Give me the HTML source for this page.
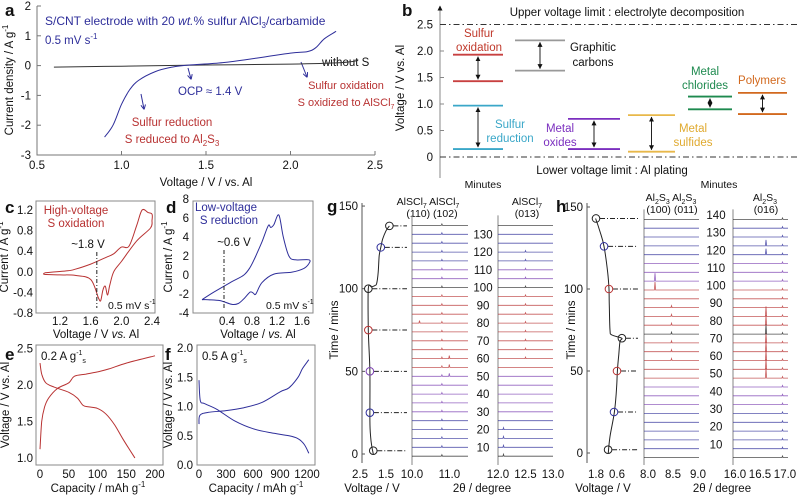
<!DOCTYPE html>
<html><head><meta charset="utf-8">
<style>
html,body{margin:0;padding:0;background:#fff;}
svg{display:block;font-family:"Liberation Sans",sans-serif;}
.t{font-size:11.5px;fill:#111;}
.s{font-size:10.5px;fill:#111;}
.pl{font-size:17px;font-weight:bold;fill:#111;}
</style></head>
<body>
<svg id="fig" width="800" height="496" viewBox="0 0 800 496" xmlns="http://www.w3.org/2000/svg">
<defs>
<marker id="ah" viewBox="0 0 10 10" refX="9" refY="5" markerWidth="5" markerHeight="5" orient="auto-start-reverse"><path d="M0,0L10,5L0,10z" fill="#111"/></marker>
<marker id="ab" viewBox="0 0 10 10" refX="9" refY="5" markerWidth="5" markerHeight="5" orient="auto"><path d="M0,0L10,5L0,10" fill="none" stroke="#2e2e9a" stroke-width="2"/></marker>
</defs>
<text class="pl" x="5" y="16">a</text>
<text class="pl" x="402" y="16">b</text>
<text class="pl" x="5" y="213">c</text>
<text class="pl" x="166" y="213">d</text>
<text class="pl" x="5" y="360">e</text>
<text class="pl" x="165" y="360">f</text>
<text class="pl" x="327" y="212">g</text>
<text class="pl" x="556" y="212">h</text>

<g>
<path d="M37,6V155H375" fill="none" stroke="#777" stroke-width="1"/>
<text class="t" x="45" y="25" style="fill:#2e2e9a;font-size:12px">S/CNT electrode with 20 <tspan font-style="italic">wt.</tspan>% sulfur  AlCl<tspan font-size="8" dy="3">3</tspan><tspan dy="-3">/carbamide</tspan></text>
<text class="t" x="45" y="44" style="fill:#2e2e9a">0.5 mV s<tspan font-size="8" dy="-5">-1</tspan></text>
<text class="t" x="322" y="66">without S</text>
<text class="t" x="178" y="95" style="fill:#2e2e9a">OCP ≈ 1.4 V</text>
<text class="t" x="346" y="89" text-anchor="middle" style="fill:#b83232;font-size:11px">Sulfur oxidation</text>
<text class="t" x="346" y="106" text-anchor="middle" style="fill:#b83232;font-size:11px">S oxidized to AlSCl<tspan font-size="7" dy="3">7</tspan></text>
<text class="t" x="172" y="126" text-anchor="middle" style="fill:#b83232">Sulfur reduction</text>
<text class="t" x="172" y="143" text-anchor="middle" style="fill:#b83232">S reduced to Al<tspan font-size="8" dy="3">2</tspan><tspan dy="-3">S</tspan><tspan font-size="8" dy="3">3</tspan></text>
<path d="M188,68L191,79" stroke="#2e2e9a" fill="none" marker-end="url(#ab)"/>
<path d="M141,94L144,109" stroke="#2e2e9a" fill="none" marker-end="url(#ab)"/>
<path d="M301,62L307,77" stroke="#2e2e9a" fill="none" marker-end="url(#ab)"/>
<text class="t" x="206" y="186" text-anchor="middle">Voltage / V / vs. Al</text>
<text class="t" transform="translate(13,80) rotate(-90)" text-anchor="middle">Current density / A g<tspan font-size="8" dy="-5">-1</tspan></text>
</g>

<g>
<path d="M440,178V6" stroke="#888" marker-end="url(#ah)"/>
<text class="t" x="627" y="16" text-anchor="middle">Upper voltage limit : electrolyte decomposition</text>
<text class="t" x="612" y="174" text-anchor="middle">Lower voltage limit : Al plating</text>
<text class="t" transform="translate(404,88) rotate(-90)" text-anchor="middle">Voltage / V vs. Al</text>
<text class="t" x="479" y="37" text-anchor="middle" style="fill:#c0392b">Sulfur</text>
<text class="t" x="479" y="51" text-anchor="middle" style="fill:#c0392b">oxidation</text>
<text class="t" x="593" y="51" text-anchor="middle">Graphitic</text>
<text class="t" x="593" y="66" text-anchor="middle">carbons</text>
<text class="t" x="510" y="128" text-anchor="middle" style="fill:#3aa7c8">Sulfur</text>
<text class="t" x="510" y="142" text-anchor="middle" style="fill:#3aa7c8">reduction</text>
<text class="t" x="560" y="132" text-anchor="middle" style="fill:#7b2fbf">Metal</text>
<text class="t" x="560" y="146" text-anchor="middle" style="fill:#7b2fbf">oxides</text>
<text class="t" x="693" y="132" text-anchor="middle" style="fill:#e0aa30">Metal</text>
<text class="t" x="693" y="146" text-anchor="middle" style="fill:#e0aa30">sulfides</text>
<text class="t" x="705" y="75" text-anchor="middle" style="fill:#1e8a4f">Metal</text>
<text class="t" x="705" y="89" text-anchor="middle" style="fill:#1e8a4f">chlorides</text>
<text class="t" x="762" y="84" text-anchor="middle" style="fill:#d2691e">Polymers</text>
</g>

<rect x="36" y="201" width="119" height="112" fill="none" stroke="#888"/>
<text class="t" x="76" y="214" text-anchor="middle" style="fill:#b83232">High-voltage</text>
<text class="t" x="76" y="227" text-anchor="middle" style="fill:#b83232">S oxidation</text>
<text class="t" x="88" y="248" text-anchor="middle">~1.8 V</text>
<text class="s" x="108" y="309">0.5 mV s<tspan font-size="7" dy="-5">-1</tspan></text>
<text class="t" x="96" y="338" text-anchor="middle">Voltage / V <tspan font-style="italic">vs.</tspan> Al</text>
<text class="t" transform="translate(8,257) rotate(-90)" text-anchor="middle">Current / A g<tspan font-size="8" dy="-5">-1</tspan></text>

<rect x="193" y="201" width="120" height="112" fill="none" stroke="#888"/>
<text class="t" x="226" y="211" text-anchor="middle" style="fill:#2e2e9a">Low-voltage</text>
<text class="t" x="229" y="224" text-anchor="middle" style="fill:#2e2e9a">S reduction</text>
<text class="t" x="234" y="246" text-anchor="middle">~0.6 V</text>
<text class="s" x="266" y="309">0.5 mV s<tspan font-size="7" dy="-5">-1</tspan></text>
<text class="t" x="258" y="338" text-anchor="middle">Voltage / <tspan font-style="italic">vs.</tspan> Al</text>
<text class="t" transform="translate(172,257) rotate(-90)" text-anchor="middle">Current / A g<tspan font-size="8" dy="-5">-1</tspan></text>

<rect x="36" y="345" width="127" height="120" fill="none" stroke="#888"/>
<text class="t" x="41" y="360">0.2 A g<tspan font-size="7" dy="-5">-1</tspan><tspan font-size="7" dy="8">s</tspan></text>
<text class="t" x="98" y="492" text-anchor="middle">Capacity / mAh g<tspan font-size="8" dy="-5">-1</tspan></text>
<text class="t" transform="translate(9,405) rotate(-90)" text-anchor="middle">Voltage / V vs. Al</text>

<rect x="197" y="345" width="118" height="120" fill="none" stroke="#888"/>
<text class="t" x="202" y="360">0.5 A g<tspan font-size="7" dy="-5">-1</tspan><tspan font-size="7" dy="8">s</tspan></text>
<text class="t" x="256" y="492" text-anchor="middle">Capacity / mAh g<tspan font-size="8" dy="-5">-1</tspan></text>
<text class="t" transform="translate(172,405) rotate(-90)" text-anchor="middle">Voltage / V vs. Al</text>

<text class="t" x="372" y="492" text-anchor="middle">Voltage / V</text>
<text class="t" x="482" y="492" text-anchor="middle">2θ / degree</text>
<text class="t" transform="translate(338,330) rotate(-90)" text-anchor="middle">Time / mins</text>
<text class="s" x="483" y="188" text-anchor="middle">Minutes</text>
<text class="s" x="428" y="205" text-anchor="middle">AlSCl<tspan font-size="7" dy="3">7</tspan><tspan dy="-3"> AlSCl</tspan><tspan font-size="7" dy="3">7</tspan></text>
<text class="s" x="432" y="217" text-anchor="middle">(110) (102)</text>
<text class="s" x="527" y="205" text-anchor="middle">AlSCl<tspan font-size="7" dy="3">7</tspan></text>
<text class="s" x="527" y="217" text-anchor="middle">(013)</text>

<text class="t" x="603" y="492" text-anchor="middle">Voltage / V</text>
<text class="t" x="722" y="492" text-anchor="middle">2θ / degree</text>
<text class="t" transform="translate(575,330) rotate(-90)" text-anchor="middle">Time / mins</text>
<text class="s" x="719" y="188" text-anchor="middle">Minutes</text>
<text class="s" x="671" y="201" text-anchor="middle">Al<tspan font-size="7" dy="3">2</tspan><tspan dy="-3">S</tspan><tspan font-size="7" dy="3">3</tspan><tspan dy="-3"> Al</tspan><tspan font-size="7" dy="3">2</tspan><tspan dy="-3">S</tspan><tspan font-size="7" dy="3">3</tspan></text>
<text class="s" x="672" y="213" text-anchor="middle">(100) (011)</text>
<text class="s" x="765" y="201" text-anchor="middle">Al<tspan font-size="7" dy="3">2</tspan><tspan dy="-3">S</tspan><tspan font-size="7" dy="3">3</tspan></text>
<text class="s" x="766" y="213" text-anchor="middle">(016)</text>
<g id="dyn"></g>
</svg>
<script>
// ---- data ----
const aWithS_V = [0.9,0.95,1.0,1.05,1.1,1.2,1.3,1.4,1.6,1.8,2.0,2.1,2.15,2.2,2.27];
const aWithS_I = [-2.4,-2.0,-1.3,-0.8,-0.5,-0.2,-0.05,0.02,0.1,0.25,0.42,0.47,0.6,0.9,1.15];
const aNoS_V = [0.6,1.0,1.5,2.0,2.3,2.4];
const aNoS_I = [-0.05,-0.02,0.02,0.05,0.1,0.17];
const aXTicks = [0.5,1.0,1.5,2.0,2.5];
const aXTickLabels = ["0.5","1.0","1.5","2.0","2.5"];
const aYTicks = [2,1,0,-1,-2,-3];

const bNames = ["sulfur-oxidation","graphitic-carbons","sulfur-reduction","metal-oxides","metal-sulfides","metal-chlorides","polymers"];
const bLow = [1.43,1.63,0.15,0.15,0.1,0.9,0.81];
const bHigh = [1.93,2.2,0.97,0.72,0.79,1.14,1.21];
const bYTicks = [2.5,2.0,1.5,1.0,0.5,0];
const bYTickLabels = ["2.5","2.0","1.5","1.0","0.5","0"];

const cV = [1.0,1.3,1.4,1.6,1.8,1.9,2.0,2.1,2.2,2.27,2.35,2.4,2.4,2.38,2.2,2.0,1.9,1.85,1.82,1.79,1.76,1.73,1.7,1.6,1.4,1.2,1.0,1.0];
const cI = [-0.02,0.02,0.05,0.15,0.28,0.35,0.48,0.5,0.9,1.2,1.15,1.12,1.0,0.85,0.6,0.2,0.0,-0.25,-0.45,-0.28,-0.35,-0.56,-0.5,-0.15,-0.07,-0.06,-0.05,-0.02];
const cXTicks = [1.2,1.6,2.0,2.4];
const cXTickLabels = ["1.2","1.6","2.0","2.4"];
const cYTicks = [1.2,0.8,0.4,0.0,-0.4,-0.8];
const cYTickLabels = ["1.2","0.8","0.4","0.0","-0.4","-0.8"];

const dV = [0.0,0.19,0.48,0.67,0.77,0.86,0.96,1.06,1.10,1.15,1.23,1.30,1.39,1.49,1.71,1.71,1.63,1.44,1.15,0.96,0.86,0.82,0.77,0.67,0.58,0.48,0.29,0.1,0.0];
const dI = [-2.6,-1.8,-0.7,0.0,0.8,2.0,3.5,5.2,5.0,5.3,6.3,4.0,2.0,1.6,1.6,1.2,0.7,0.3,0.1,-0.8,-2.0,-1.9,-1.8,-2.5,-3.0,-3.1,-2.7,-2.6,-2.6];
const dXTicks = [0.4,0.8,1.2,1.6];
const dXTickLabels = ["0.4","0.8","1.2","1.6"];
const dYTicks = [8,6,4,2,0,-2,-4];

const eChgCap = [0,3,8,15,30,50,60,80,100,120,150,200];
const eChgV = [1.12,1.5,1.7,1.82,1.95,2.03,2.12,2.15,2.18,2.22,2.3,2.4];
const eDisCap = [0,3,10,25,50,65,75,85,100,115,130,145,165];
const eDisV = [2.3,2.15,2.03,1.97,1.9,1.82,1.72,1.7,1.68,1.6,1.45,1.25,1.0];
const eXTicks = [0,50,100,150,200];
const eYTicks = [2.5,2.0,1.5,1.0];
const eYTickLabels = ["2.5","2.0","1.5","1.0"];

const fChgCap = [0,10,100,300,500,700,900,1000,1100,1150,1220];
const fChgV = [0.7,0.85,0.9,0.93,0.98,1.07,1.25,1.32,1.5,1.65,1.8];
const fDisCap = [0,15,60,200,400,600,800,1000,1100,1170,1220];
const fDisV = [1.45,1.1,1.05,0.95,0.75,0.62,0.55,0.5,0.45,0.35,0.2];
const fXTicks = [0,300,600,900,1200];
const fYTicks = [2.0,1.5,1.0,0.5,0.0];
const fYTickLabels = ["2.0","1.5","1.0","0.5","0.0"];

const gTime = [0,5,10,20,50,75,100,101,102,103,110,120,125,130,135,138];
const gVolt = [1.99,2.05,2.09,2.12,2.12,2.18,2.18,2.05,1.92,1.86,1.80,1.76,1.70,1.63,1.50,1.37];
const gMarkT = [2,25,50,75,100,125,138];
const gMarkV = [1.99,2.12,2.12,2.18,2.18,1.70,1.37];
const gYTicks = [150,100,50,0];
const gVTicks = [2.5,1.5];
const gTraceT = [5,10,15,20,25,30,35,40,45,50,55,60,65,70,75,80,85,90,95,100,105,110,115,120,125,130,135];
const gLabelT = [10,20,30,40,50,60,70,80,90,100,110,120,130];
const g1Ticks = [10.0,11.0];
const g1TickLabels = ["10.0","11.0"];
const g2Ticks = [12.0,12.5,13.0];
const g2TickLabels = ["12.0","12.5","13.0"];
const g1PeakTheta = [10.8,11.0,10.2];
const g1PeakFrom = [5,50,80];
const g1PeakTo = [135,60,80];
const g1PeakH = [1.5,3,2.5];
const g2PeakTheta = [12.1,12.5];
const g2PeakFrom = [5,60];
const g2PeakTo = [20,120];
const g2PeakH = [2,1.5];

const hTime = [0,10,25,40,50,60,68,70,72,75,90,100,110,126,135,143];
const hVolt = [1.10,1.00,0.75,0.62,0.58,0.50,0.43,0.33,0.90,1.00,1.04,1.06,1.13,1.34,1.57,1.82];
const hMarkT = [2,25,50,70,100,126,143];
const hMarkV = [1.11,0.77,0.60,0.32,1.06,1.34,1.80];
const hYTicks = [150,100,50,0];
const hVTicks = [1.8,0.6];
const hTraceT = [2.5,7.5,12.5,17.5,22.5,27.5,32.5,37.5,42.5,47.5,52.5,57.5,62.5,67.5,72.5,77.5,82.5,87.5,92.5,97.5,102.5,107.5,112.5,117.5,122.5,127.5,132.5,137.5];
const hLabelT = [10,20,30,40,50,60,70,80,90,100,110,120,130,140];
const h1Ticks = [8.0,8.5,9.0];
const h1TickLabels = ["8.0","8.5","9.0"];
const h2Ticks = [16.0,16.5,17.0];
const h2TickLabels = ["16.0","16.5","17.0"];
const h1PeakTheta = [8.2,8.5];
const h1PeakFrom = [100,60];
const h1PeakTo = [100,85];
const h1PeakH = [8,2];
const h2PeakTheta = [16.6,16.6,16.9];
const h2PeakFrom = [50,120,0];
const h2PeakTo = [80,120,140];
const h2PeakH = [10,6,1.5];

// ---- styles ----
const BLUE="#2e2e9a", RED="#b83232";
const bColors = ["#c84040","#999","#3aa7c8","#7b2fbf","#e8b84a","#1e8a4f","#d2691e"];
const bX0 = [453,515,453,568,628,688,738];
const bX1 = [503,565,503,620,675,732,787];
const markColors = ["#222",BLUE,"#7a3fb0",RED,"#222",BLUE,"#222"];
const hMarkColors = ["#222",BLUE,RED,"#222",RED,BLUE,"#222"];

// ---- helpers ----
const root = document.getElementById('dyn');
const NS="http://www.w3.org/2000/svg";
function mk(tag){ const e=document.createElementNS(NS,tag); root.appendChild(e); return e; }
function smoothPath(px){
  let d="M"+px[0][0].toFixed(1)+","+px[0][1].toFixed(1);
  for(let i=0;i<px.length-1;i++){
    const p0=px[Math.max(0,i-1)],p1=px[i],p2=px[i+1],p3=px[Math.min(px.length-1,i+2)];
    const c1=[p1[0]+(p2[0]-p0[0])/6,p1[1]+(p2[1]-p0[1])/6];
    const c2=[p2[0]-(p3[0]-p1[0])/6,p2[1]-(p3[1]-p1[1])/6];
    d+="C"+c1[0].toFixed(1)+","+c1[1].toFixed(1)+" "+c2[0].toFixed(1)+","+c2[1].toFixed(1)+" "+p2[0].toFixed(1)+","+p2[1].toFixed(1);
  }
  return d;
}
function curve(xs,ys,fx,fy,color,name,w){
  const p=mk('path');
  
  
  p.setAttribute('d', smoothPath(xs.map((x,i)=>[fx(x),fy(ys[i])])));
  p.setAttribute('fill','none'); p.setAttribute('stroke',color); p.setAttribute('stroke-width',w||1.2);
  return p;
}
function txt(x,y,s,anchor,name,size){
  const t=mk('text');
  
  
  t.setAttribute('x',x); t.setAttribute('y',y); t.setAttribute('text-anchor',anchor||'middle');
  t.setAttribute('class', size==='s'?'s':'t');
  t.textContent=s; return t;
}
function ln(x1,y1,x2,y2,color,name,dash,w){
  const l=mk('line');
  
  
  l.setAttribute('x1',x1);l.setAttribute('y1',y1);l.setAttribute('x2',x2);l.setAttribute('y2',y2);
  l.setAttribute('stroke',color); l.setAttribute('stroke-width',w||1);
  if(dash) l.setAttribute('stroke-dasharray',dash);
  return l;
}

// ---- panel a ----
const xA=v=>37+(v-0.5)*169, yA=v=>155-(v+3)*29.8;
aXTicks.forEach((v,i)=>{ ln(xA(v),155,xA(v),151,'#777','a-x-tick'); txt(xA(v),169,aXTickLabels[i],'middle','a-x-tick-label'); });
aYTicks.forEach(v=>{ ln(37,yA(v),41,yA(v),'#777','a-y-tick'); txt(31,yA(v)+4,String(v),'end','a-y-tick-label'); });
curve(aNoS_V,aNoS_I,xA,yA,'#333','a-without-s-line',1);
curve(aWithS_V,aWithS_I,xA,yA,BLUE,'a-with-s-line',1);

// ---- panel b ----
const yB=v=>157-v*53;
bYTicks.forEach((v,i)=>{ txt(433,yB(v)+4,bYTickLabels[i],'end','b-y-tick-label'); ln(440,yB(v),444,yB(v),'#888','b-y-tick'); });
ln(440,yB(2.5),800,yB(2.5),'#333','upper-limit-line','6,3,1.5,3');
ln(440,yB(0),800,yB(0),'#333','lower-limit-line','6,3,1.5,3');
bLow.forEach((lo,i)=>{
  const hi=bHigh[i];
  ln(bX0[i],yB(lo),bX1[i],yB(lo),bColors[i],'b-'+bNames[i]+'-low',null,1.8);
  ln(bX0[i],yB(hi),bX1[i],yB(hi),bColors[i],'b-'+bNames[i]+'-high',null,1.8);
  const xm=(bX0[i]+bX1[i])/2;
  const a=ln(xm,yB(lo)-2,xm,yB(hi)+2,'#222','b-'+bNames[i]+'-arrow');
  a.setAttribute('marker-start','url(#ah)'); a.setAttribute('marker-end','url(#ah)');
});

// ---- panel c ----
const xC=v=>60+(v-1.2)*76.7, yC=v=>313-(v+0.8)*51.5;
cXTicks.forEach((v,i)=>txt(xC(v),325,cXTickLabels[i],'middle','c-x-tick-label'));
cYTicks.forEach((v,i)=>txt(33,yC(v)+4,cYTickLabels[i],'end','c-y-tick-label'));
curve(cV,cI,xC,yC,RED,'c-cv-curve',1);
ln(xC(1.68),252,xC(1.68),308,'#222','c-marker-line','4,2,1,2');

// ---- panel d ----
const xD=v=>227+(v-0.4)*62.5, yD=v=>313-(v+4)*9.5;
dXTicks.forEach((v,i)=>txt(xD(v),325,dXTickLabels[i],'middle','d-x-tick-label'));
dYTicks.forEach(v=>txt(189,yD(v)+4,String(v),'end','d-y-tick-label'));
curve(dV,dI,xD,yD,BLUE,'d-cv-curve',1);
ln(224,250,224,310,'#222','d-marker-line','4,2,1,2');

// ---- panel e ----
const xE=c=>40+c*0.575, yE=v=>458-(v-1)*73;
eXTicks.forEach(v=>txt(xE(v),478,String(v),'middle','e-x-tick-label'));
eYTicks.forEach((v,i)=>txt(33,yE(v)+4,eYTickLabels[i],'end','e-y-tick-label'));
curve(eChgCap,eChgV,xE,yE,RED,'e-charge-curve',1);
curve(eDisCap,eDisV,xE,yE,RED,'e-discharge-curve',1);

// ---- panel f ----
const xF=c=>199+c*0.09, yF=v=>465-v*58.5;
fXTicks.forEach(v=>txt(xF(v),478,String(v),'middle','f-x-tick-label'));
fYTicks.forEach((v,i)=>txt(193,yF(v)+4,fYTickLabels[i],'end','f-y-tick-label'));
curve(fChgCap,fChgV,xF,yF,BLUE,'f-charge-curve',1);
curve(fDisCap,fDisV,xF,yF,BLUE,'f-discharge-curve',1);

// ---- panels g & h ----
function xrdPanel(prefix, x0, x1, th0, th1, traceT, yX, colorFn, pTh, pFrom, pTo, pH){
  const fx=th=>x0+(th-th0)/(th1-th0)*(x1-x0);
  ln(x0,yX(traceT[traceT.length-1])-10,x0,465,'#999',prefix+'-axis',null,1.2);
  traceT.forEach((t,i)=>{
    const y=yX(t);
    let d="M"+x0+","+y.toFixed(1);
    const peaks=[];
    pTh.forEach((th,k)=>{ if(t>=pFrom[k]-2.6&&t<=pTo[k]+2.6) peaks.push([fx(th),pH[k]]); });
    peaks.sort((a,b)=>a[0]-b[0]);
    peaks.forEach(p=>{ d+="L"+(p[0]-0.6).toFixed(1)+","+y.toFixed(1)+"L"+p[0].toFixed(1)+","+(y-p[1]).toFixed(1)+"L"+(p[0]+0.6).toFixed(1)+","+y.toFixed(1); });
    d+="L"+x1+","+y.toFixed(1);
    const p=mk('path');
    
    
    p.setAttribute('d',d); p.setAttribute('fill','none'); p.setAttribute('stroke',colorFn(t,i)); p.setAttribute('stroke-width',0.8); p.setAttribute('stroke-opacity',0.8);
  });
}
function gColor(t){
  if(t<=5||t===100||t>=135) return '#222';
  if(t<=25||t>=115) return BLUE;
  if(t<=50||t>=105) return '#7a3fb0';
  return RED;
}
function hColor(t){
  if(t<3||t>137||(t>70&&t<75)) return '#222';
  if(t<30||t>115) return BLUE;
  if(t<45||t>100) return '#7a3fb0';
  return RED;
}
const yGV=t=>454-t*1.653, xGV=v=>360+(2.5-v)*26;
ln(362,203,362,463,'#555','g-time-axis');
gYTicks.forEach(v=>{ txt(358,yGV(v)+4,String(v),'end','g-y-tick-label'); ln(362,yGV(v),365,yGV(v),'#555','g-y-tick'); });
gVTicks.forEach(v=>txt(xGV(v),478,v.toFixed(1),'middle','g-v-tick-label'));
curve(gVolt,gTime,xGV,yGV,'#222','g-voltage-curve',1);
gMarkT.forEach((t,i)=>{
  ln(xGV(gMarkV[i])+4,yGV(t),407,yGV(t),'#222','g-time-guide','5,2,1,2');
  const c=mk('circle');
  
  
  c.setAttribute('cx',xGV(gMarkV[i])); c.setAttribute('cy',yGV(t)); c.setAttribute('r',3.8);
  c.setAttribute('fill','none'); c.setAttribute('stroke',markColors[i]);
});
const yGX=t=>447.3-(t-10)*1.775;
xrdPanel('g1',412,468,10.0,11.5,gTraceT,yGX,gColor,g1PeakTheta,g1PeakFrom,g1PeakTo,g1PeakH);
xrdPanel('g2',498,553,12.0,13.0,gTraceT,yGX,gColor,g2PeakTheta,g2PeakFrom,g2PeakTo,g2PeakH);
gLabelT.forEach(t=>txt(483,yGX(t)+4,String(t),'middle','g-time-label'));
g1Ticks.forEach((v,i)=>txt(412+(v-10)/1.5*56,478,g1TickLabels[i],'middle','g1-tick-label'));
g2Ticks.forEach((v,i)=>txt(498+(v-12)*55,478,g2TickLabels[i],'middle','g2-tick-label'));

const yHV=t=>453-t*1.64, xHV=v=>596+(1.8-v)*17.5;
ln(587,203,587,463,'#555','h-time-axis');
hYTicks.forEach(v=>{ txt(583,yHV(v)+4,String(v),'end','h-y-tick-label'); ln(587,yHV(v),590,yHV(v),'#555','h-y-tick'); });
hVTicks.forEach(v=>txt(xHV(v),478,v.toFixed(1),'middle','h-v-tick-label'));
curve(hVolt,hTime,xHV,yHV,'#222','h-voltage-curve',1);
hMarkT.forEach((t,i)=>{
  ln(xHV(hMarkV[i])+4,yHV(t),638,yHV(t),'#222','h-time-guide','5,2,1,2');
  const c=mk('circle');
  
  
  c.setAttribute('cx',xHV(hMarkV[i])); c.setAttribute('cy',yHV(t)); c.setAttribute('r',3.8);
  c.setAttribute('fill','none'); c.setAttribute('stroke',hMarkColors[i]);
});
const yHX=t=>444.3-(t-10)*1.764;
xrdPanel('h1',644,699,8.0,9.0,hTraceT,yHX,hColor,h1PeakTheta,h1PeakFrom,h1PeakTo,h1PeakH);
xrdPanel('h2',733,788,16.0,17.0,hTraceT,yHX,hColor,h2PeakTheta,h2PeakFrom,h2PeakTo,h2PeakH);
hLabelT.forEach(t=>txt(716,yHX(t)+4,String(t),'middle','h-time-label'));
h1Ticks.forEach((v,i)=>txt(648+(v-8)*50,478,h1TickLabels[i],'middle','h1-tick-label'));
h2Ticks.forEach((v,i)=>txt(735+(v-16)*50,478,h2TickLabels[i],'middle','h2-tick-label'));
</script>
</body></html>
